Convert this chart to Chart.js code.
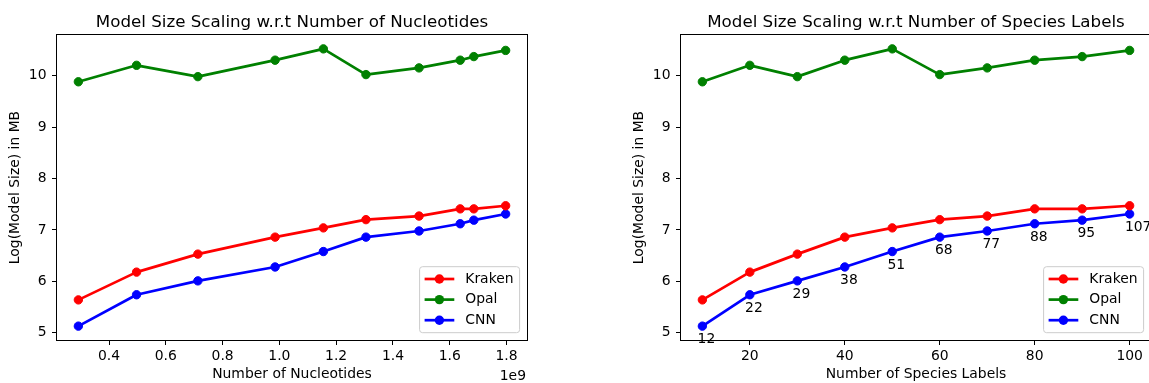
<!DOCTYPE html>
<html>
<head>
<meta charset="utf-8">
<script src="https://cdn.jsdelivr.net/npm/chart.js@4.4.1/dist/chart.umd.min.js"></script>
<style>
  html, body { margin: 0; padding: 0; background: #fff; overflow: hidden; }
  body { width: 1149px; height: 383px; position: relative; }
  .panel { position: absolute; top: 0; }
  #panel-left { left: 0; }
  #panel-right { left: 624px; }
</style>
</head>
<body>
<div class="panel" id="panel-left"><canvas id="chart-nucleotides" width="575" height="383"></canvas></div>
<div class="panel" id="panel-right"><canvas id="chart-species" width="560" height="383"></canvas></div>
<script>
  // data
  var seriesNames = ['Kraken', 'Opal', 'CNN'];
  var seriesColors = ['#ff0000', '#008000', '#0000ff'];

  var nucleotides = [292e6, 497e6, 713e6, 985e6, 1155e6, 1305e6, 1492e6, 1637e6, 1685e6, 1797e6];
  var speciesLabels = [10, 20, 30, 40, 50, 60, 70, 80, 90, 100];

  var krakenSize = [5.64, 6.18, 6.53, 6.86, 7.04, 7.20, 7.27, 7.41, 7.41, 7.47];
  var opalSize = [9.88, 10.20, 9.98, 10.30, 10.52, 10.02, 10.15, 10.30, 10.37, 10.49];
  var cnnSize = [5.13, 5.74, 6.01, 6.28, 6.58, 6.86, 6.98, 7.12, 7.19, 7.31];

  // numbers written under the CNN points (right panel)
  var cnnSpeciesNotes = [12, 22, 29, 38, 51, 68, 77, 88, 95, 107];

  var nucleotideTicks = [0.4e9, 0.6e9, 0.8e9, 1.0e9, 1.2e9, 1.4e9, 1.6e9, 1.8e9];
  var speciesTicks = [20, 40, 60, 80, 100];
  var sizeTicks = [5, 6, 7, 8, 9, 10];

  var FONT = '"DejaVu Sans", "Liberation Sans", sans-serif';
  var SMALL = 13.9;

  // matplotlib style 5% margins
  function padRange(lists) {
    var all = [].concat.apply([], lists);
    var lo = Math.min.apply(null, all), hi = Math.max.apply(null, all);
    var m = (hi - lo) * 0.05;
    return [lo - m, hi + m];
  }

  var panelDecor = {
    id: 'panelDecor',
    afterDatasetsDraw: function (chart, args, o) {
      var ctx = chart.ctx, a = chart.chartArea;
      // frame (4 spines)
      ctx.save();
      ctx.strokeStyle = '#000';
      ctx.lineWidth = 1;
      ctx.strokeRect(Math.round(a.left) - 0.5, Math.round(a.top) - 0.5,
        Math.round(a.right) - Math.round(a.left) + 1, Math.round(a.bottom) - Math.round(a.top) + 1);
      ctx.restore();

      // notes under CNN points
      if (o.notes) {
        var xs = chart.scales.x, ys = chart.scales.y;
        var pts = chart.data.datasets[2].data;
        ctx.save();
        ctx.fillStyle = '#000';
        ctx.font = SMALL + 'px ' + FONT;
        ctx.textAlign = 'left';
        ctx.textBaseline = 'alphabetic';
        o.notes.forEach(function (n, i) {
          var px = xs.getPixelForValue(pts[i].x - 1);
          var py = ys.getPixelForValue(pts[i].y - 0.33);
          ctx.fillText(String(n), px, py);
        });
        ctx.restore();
      }
    },
    afterDraw: function (chart, args, o) {
      var ctx = chart.ctx, a = chart.chartArea;
      ctx.save();
      // title
      ctx.fillStyle = '#000';
      ctx.font = '16.7px ' + FONT;
      ctx.textAlign = 'center';
      ctx.textBaseline = 'alphabetic';
      ctx.fillText(o.title, (a.left + a.right) / 2, 26.7);

      // offset text
      if (o.offsetText) {
        ctx.font = SMALL + 'px ' + FONT;
        ctx.textAlign = 'right';
        ctx.fillText(o.offsetText, a.right - 1, 380);
      }

      // legend box, bottom right
      var w = 100, h = 66;
      var x0 = a.right - 7.4 - w, y0 = a.bottom - 7.3 - h, r = 3;
      ctx.beginPath();
      ctx.moveTo(x0 + r, y0);
      ctx.arcTo(x0 + w, y0, x0 + w, y0 + h, r);
      ctx.arcTo(x0 + w, y0 + h, x0, y0 + h, r);
      ctx.arcTo(x0, y0 + h, x0, y0, r);
      ctx.arcTo(x0, y0, x0 + w, y0, r);
      ctx.closePath();
      ctx.fillStyle = 'rgba(255,255,255,0.8)';
      ctx.fill();
      ctx.strokeStyle = '#cccccc';
      ctx.lineWidth = 1;
      ctx.stroke();

      chart.data.datasets.forEach(function (ds, i) {
        var cy = y0 + 12.3 + i * 20.6;
        ctx.strokeStyle = ds.borderColor;
        ctx.lineWidth = ds.borderWidth;
        ctx.beginPath();
        ctx.moveTo(x0 + 5, cy);
        ctx.lineTo(x0 + 34.7, cy);
        ctx.stroke();
        ctx.fillStyle = ds.borderColor;
        ctx.beginPath();
        ctx.arc(x0 + 19.8, cy, ds.pointRadius + 0.5, 0, Math.PI * 2);
        ctx.fill();
        ctx.fillStyle = '#000';
        ctx.font = SMALL + 'px ' + FONT;
        ctx.textAlign = 'left';
        ctx.textBaseline = 'middle';
        ctx.fillText(ds.label, x0 + 45.7, cy);
      });
      ctx.restore();
    },
  };

  function makePanel(canvasId, canvasW, xs, xTicks, xFormat, xTitle, decor) {
    var xr = padRange([xs]);
    var yr = padRange([krakenSize, opalSize, cnnSize]);
    var datasets = [krakenSize, opalSize, cnnSize].map(function (ys, i) {
      return {
        label: seriesNames[i],
        data: ys.map(function (y, j) { return { x: xs[j], y: y }; }),
        borderColor: seriesColors[i],
        backgroundColor: seriesColors[i],
        pointBackgroundColor: seriesColors[i],
        pointBorderColor: seriesColors[i],
        borderWidth: 2.7,
        pointRadius: 4.2,
        pointBorderWidth: 1,
        pointHoverRadius: 4.2,
        borderJoinStyle: 'round',
        tension: 0,
        fill: false,
      };
    });

    var tickFont = { family: FONT, size: SMALL };
    return new Chart(document.getElementById(canvasId), {
      type: 'line',
      data: { datasets: datasets },
      options: {
        responsive: false,
        animation: false,
        events: [],
        layout: { padding: { left: 0, right: canvasW - 527, top: 35, bottom: 0 } },
        plugins: {
          legend: { display: false },
          tooltip: { enabled: false },
          title: { display: false },
          panelDecor: decor,
        },
        scales: {
          x: {
            type: 'linear',
            min: xr[0],
            max: xr[1],
            afterFit: function (s) { s.height = 43; },
            afterBuildTicks: function (s) {
              s.ticks = xTicks.map(function (v) { return { value: v }; });
            },
            ticks: {
              callback: xFormat,
              color: '#000',
              font: tickFont,
              padding: 3,
              maxRotation: 0,
              autoSkip: false,
            },
            grid: { drawOnChartArea: false, drawTicks: true, tickLength: 5, tickWidth: 1, tickColor: '#000' },
            border: { display: false },
            title: { display: true, text: xTitle, color: '#000', font: tickFont, padding: { top: 0, bottom: 0 } },
          },
          y: {
            type: 'linear',
            min: yr[0],
            max: yr[1],
            afterFit: function (s) { s.width = 57; },
            afterBuildTicks: function (s) {
              s.ticks = sizeTicks.map(function (v) { return { value: v }; });
            },
            ticks: {
              callback: function (v) { return String(v); },
              color: '#000',
              font: tickFont,
              padding: 5.5,
              autoSkip: false,
            },
            grid: { drawOnChartArea: false, drawTicks: true, tickLength: 5, tickWidth: 1, tickColor: '#000' },
            border: { display: false },
            title: { display: true, text: 'Log(Model Size) in MB', color: '#000', font: tickFont, padding: { top: 7.5, bottom: 0 } },
          },
        },
      },
      plugins: [panelDecor],
    });
  }

  makePanel('chart-nucleotides', 575, nucleotides, nucleotideTicks,
    function (v) { return (v / 1e9).toFixed(1); },
    'Number of Nucleotides',
    { title: 'Model Size Scaling w.r.t Number of Nucleotides', offsetText: '1e9', notes: null });

  makePanel('chart-species', 560, speciesLabels, speciesTicks,
    function (v) { return String(v); },
    'Number of Species Labels',
    { title: 'Model Size Scaling w.r.t Number of Species Labels', offsetText: '', notes: cnnSpeciesNotes });
</script>
</body>
</html>
